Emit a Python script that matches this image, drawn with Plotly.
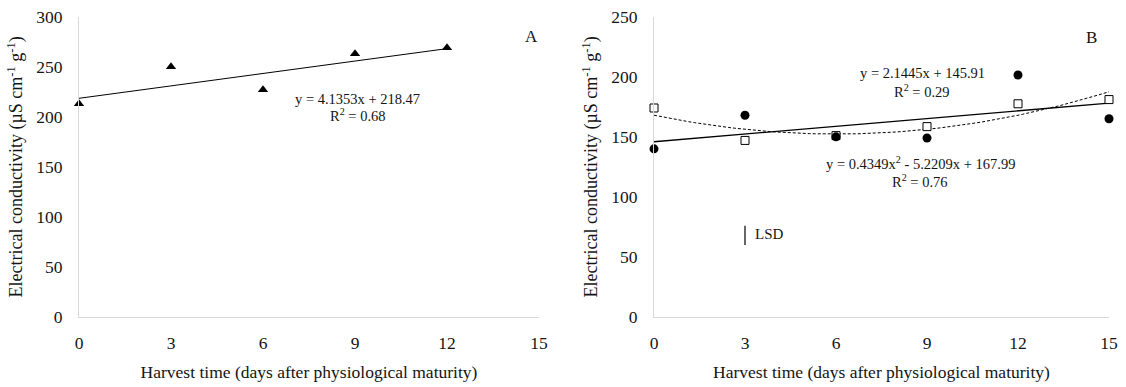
import plotly.graph_objects as go
import numpy as np

# ---- data ----
days_a = [0, 3, 6, 9, 12]
ec_a = [213, 250, 227, 263, 269]
fit_a = (4.1353, 218.47)  # slope, intercept

days_b = [0, 3, 6, 9, 12, 15]
ec_b_circle = [140, 168, 150, 149, 201.5, 165]
ec_b_square = [174, 147, 151, 158.5, 177.5, 181]
fit_b_lin = (2.1445, 145.91)
fit_b_quad = (0.4349, -5.2209, 167.99)

xticks = [0, 3, 6, 9, 12, 15]
yticks_a = [0, 50, 100, 150, 200, 250, 300]
yticks_b = [0, 50, 100, 150, 200, 250]

lsd_x = 3
lsd_y = [60, 76]

FONT = "Liberation Serif"
TXT = "#141414"
AXC = "#d9d9d9"

fig = go.Figure()

# Panel A
xa = np.linspace(0, 12, 50)
fig.add_trace(go.Scatter(x=xa, y=fit_a[0] * xa + fit_a[1], mode="lines",
                         line=dict(color="black", width=1), xaxis="x", yaxis="y",
                         showlegend=False, hoverinfo="skip", cliponaxis=False))
fig.add_trace(go.Scatter(x=days_a, y=ec_a, mode="markers",
                         marker=dict(symbol="triangle-up", size=9, color="black"),
                         xaxis="x", yaxis="y", showlegend=False, cliponaxis=False))

# Panel B
xb = np.linspace(0, 15, 80)
fig.add_trace(go.Scatter(x=xb, y=fit_b_lin[0] * xb + fit_b_lin[1], mode="lines",
                         line=dict(color="black", width=1.3), xaxis="x2", yaxis="y2",
                         showlegend=False, hoverinfo="skip", cliponaxis=False))
fig.add_trace(go.Scatter(x=xb, y=fit_b_quad[0] * xb**2 + fit_b_quad[1] * xb + fit_b_quad[2],
                         mode="lines", line=dict(color="black", width=1, dash="3px,2px"),
                         xaxis="x2", yaxis="y2", showlegend=False, hoverinfo="skip",
                         cliponaxis=False))
fig.add_trace(go.Scatter(x=days_b, y=ec_b_square, mode="markers",
                         marker=dict(symbol="square", size=8, color="white",
                                     line=dict(color="black", width=1)),
                         xaxis="x2", yaxis="y2", showlegend=False, cliponaxis=False))
fig.add_trace(go.Scatter(x=days_b, y=ec_b_circle, mode="markers",
                         marker=dict(symbol="circle", size=9, color="black"),
                         xaxis="x2", yaxis="y2", showlegend=False, cliponaxis=False))
fig.add_trace(go.Scatter(x=[lsd_x, lsd_x], y=lsd_y, mode="lines",
                         line=dict(color="black", width=1.2), xaxis="x2", yaxis="y2",
                         showlegend=False, hoverinfo="skip"))

ydom = [1 - 317 / 387, 1 - 16.7 / 387]
axis_common = dict(showgrid=False, zeroline=False, showline=True, linecolor=AXC,
                   linewidth=1, ticks="", automargin=False,
                   tickfont=dict(family=FONT, size=17.5, color=TXT))
xtitle = dict(text="Harvest time (days after physiological maturity)",
              font=dict(family=FONT, size=17.5, color=TXT), standoff=13)
ytitle = dict(text="Electrical conductivity (µS cm<sup>-1</sup> g<sup>-1</sup>)",
              font=dict(family=FONT, size=18, color=TXT), standoff=8)

fig.update_layout(
    width=1126, height=387,
    margin=dict(l=0, r=0, t=0, b=0),
    paper_bgcolor="white", plot_bgcolor="white",
    font=dict(family=FONT, color=TXT),
    xaxis=dict(domain=[79 / 1126, 539 / 1126], range=[0, 15], tickvals=xticks,
               anchor="y", ticklabelstandoff=10, title=xtitle, **axis_common),
    yaxis=dict(domain=ydom, range=[0, 300], tickvals=yticks_a, anchor="x",
               ticklabelstandoff=12, title=ytitle, **axis_common),
    xaxis2=dict(domain=[654 / 1126, 1109 / 1126], range=[0, 15], tickvals=xticks,
                anchor="y2", ticklabelstandoff=10, title=xtitle, **axis_common),
    yaxis2=dict(domain=ydom, range=[0, 250], tickvals=yticks_b, anchor="x2",
                ticklabelstandoff=12, title=ytitle, **axis_common),
)

ann_font = dict(family=FONT, size=14.5, color=TXT)
anns = [
    dict(x=358 / 1126, y=1 - 99 / 387, text="y = 4.1353x + 218.47"),
    dict(x=358 / 1126, y=1 - 115.5 / 387, text="R<sup>2</sup> = 0.68"),
    dict(x=922 / 1126, y=1 - 73 / 387, text="y = 2.1445x + 145.91"),
    dict(x=922 / 1126, y=1 - 91.5 / 387, text="R<sup>2</sup> = 0.29"),
    dict(x=920 / 1126, y=1 - 162.5 / 387, text="y = 0.4349x<sup>2</sup> - 5.2209x + 167.99"),
    dict(x=920 / 1126, y=1 - 180.5 / 387, text="R<sup>2</sup> = 0.76"),
]
for a in anns:
    fig.add_annotation(xref="paper", yref="paper", showarrow=False, font=ann_font,
                       xanchor="center", yanchor="middle", **a)

fig.add_annotation(xref="paper", yref="paper", x=531 / 1126, y=1 - 25 / 387, text="A",
                   showarrow=False, font=dict(family=FONT, size=17, color=TXT))
fig.add_annotation(xref="paper", yref="paper", x=1099 / 1126, y=1 - 25.5 / 387, text="B",
                   showarrow=False, font=dict(family=FONT, size=17, color=TXT))
fig.add_annotation(xref="paper", yref="paper", x=753 / 1126, y=1 - 234 / 387, text="LSD",
                   xanchor="left", yanchor="middle", showarrow=False,
                   font=dict(family=FONT, size=15, color=TXT))

fig.write_html("out.html")
